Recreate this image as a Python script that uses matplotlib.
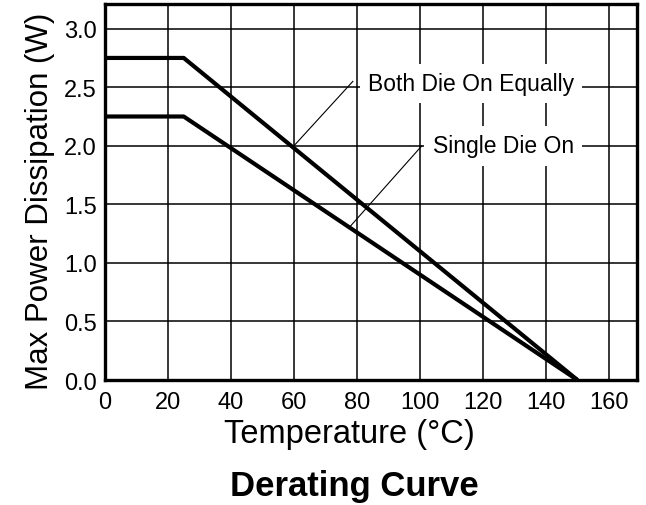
import numpy as np
import matplotlib.pyplot as plt

plt.rcParams['font.family'] = ['Liberation Sans', 'DejaVu Sans']

# derating curves (temperature in C, power in W)
temp_both = [0, 25, 150]
power_both = [2.75, 2.75, 0.0]
temp_single = [0, 25, 150]
power_single = [2.25, 2.25, 0.0]

x_ticks = [0, 20, 40, 60, 80, 100, 120, 140, 160]
y_ticks = [0.0, 0.5, 1.0, 1.5, 2.0, 2.5, 3.0]

fig = plt.figure(figsize=(6.46, 5.06), dpi=100)
ax = fig.add_axes([0.1625, 0.247, 0.824, 0.743])

ax.plot(temp_both, power_both, color='black', lw=3.0, solid_capstyle='butt', zorder=3)
ax.plot(temp_single, power_single, color='black', lw=3.0, solid_capstyle='butt', zorder=3)

ax.set_xlim(0, 169)
ax.set_ylim(0, 3.21)
ax.set_xticks(x_ticks)
ax.set_yticks(y_ticks)
ax.set_yticklabels([f'{v:.1f}' for v in y_ticks])
ax.tick_params(length=0, labelsize=17)
ax.tick_params(axis='x', pad=8)
ax.tick_params(axis='y', pad=6)
ax.grid(True, color='black', lw=1.1)
ax.set_axisbelow(True)
for s in ax.spines.values():
    s.set_linewidth(2.4)

ax.set_xlabel('Temperature (°C)', fontsize=23.5)
ax.set_ylabel('Max Power Dissipation (W)', fontsize=22.5)
ax.xaxis.set_label_coords(0.46, -0.10)
ax.yaxis.set_label_coords(-0.094, 0.478)

# leader lines and labels
ax.plot([60, 78.7], [2.0, 2.55], color='black', lw=0.8, zorder=2)
ax.text(83.5, 2.53, 'Both Die On Equally', fontsize=16.5, va='center', ha='left',
        bbox=dict(facecolor='white', edgecolor='none', pad=6), zorder=4)
ax.plot([77.8, 100.6], [1.31, 2.0], color='black', lw=0.8, zorder=2)
ax.text(104, 2.0, 'Single Die On', fontsize=16.5, va='center', ha='left',
        bbox=dict(facecolor='white', edgecolor='none', pad=6), zorder=4)

fig.text(0.548, 0.038, 'Derating Curve', fontsize=25, fontweight='bold',
         ha='center', va='center')

fig.savefig('out.png', dpi=100)
